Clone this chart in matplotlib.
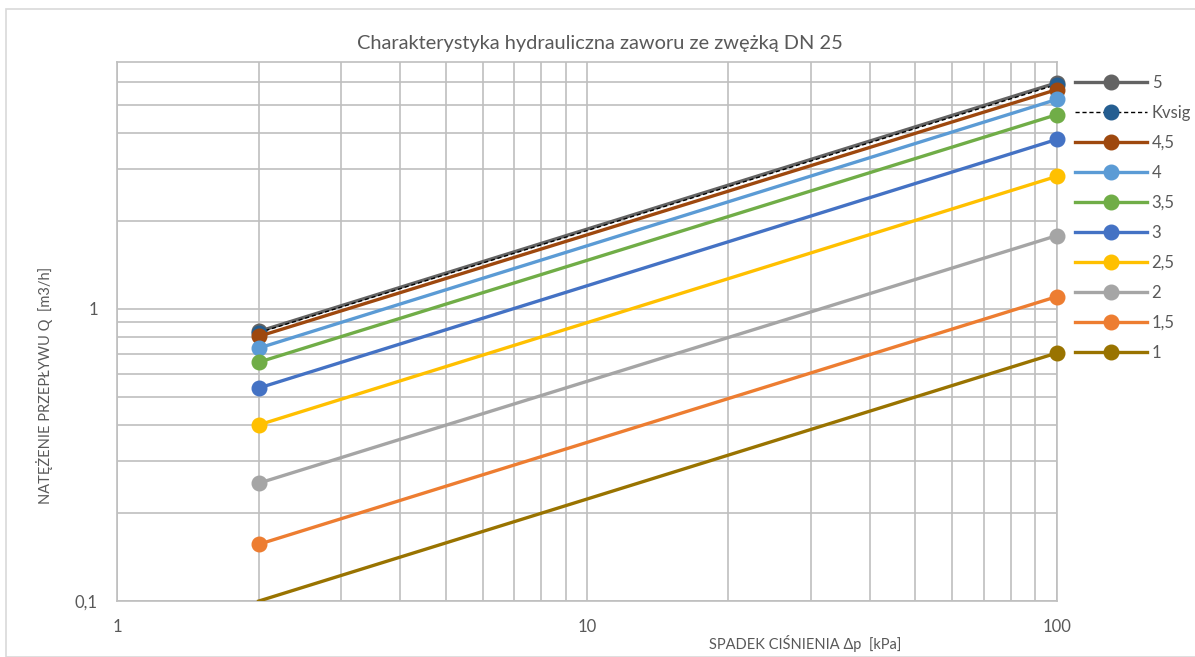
import matplotlib
matplotlib.use("Agg")
import matplotlib.pyplot as plt
from matplotlib.ticker import FixedLocator, FuncFormatter, NullFormatter
from matplotlib.patches import Rectangle
from matplotlib.lines import Line2D

plt.rcParams['font.family'] = ['Lato', 'DejaVu Sans']

dp = [2, 100]
labels = ["5", "Kvsig", "4,5", "4", "3,5", "3", "2,5", "2", "1,5", "1"]
q_5 = [0.836, 5.94]
q_kvsig = [0.828, 5.86]
q_45 = [0.804, 5.63]
q_4 = [0.733, 5.21]
q_35 = [0.656, 4.62]
q_3 = [0.535, 3.80]
q_25 = [0.400, 2.84]
q_2 = [0.2526, 1.78]
q_15 = [0.156, 1.10]
q_1 = [0.0997, 0.705]
series = [q_5, q_kvsig, q_45, q_4, q_35, q_3, q_25, q_2, q_15, q_1]
colors = ["#636363", "#255E91", "#9E480E", "#5B9BD5", "#70AD47",
          "#4472C4", "#FFC000", "#A5A5A5", "#ED7D31", "#997300"]

W, H = 1195, 657
fig = plt.figure(figsize=(W / 100, H / 100), dpi=100)
fig.patches.append(Rectangle((6 / W, 0), 2, (H - 9) / H, transform=fig.transFigure,
                             fill=False, edgecolor="#D9D9D9", linewidth=1.2))

l, r, t, b = 117.3, 1056.7, 62, 600.7
ax = fig.add_axes([l / W, (H - b) / H, (r - l) / W, (b - t) / H])
ax.set_xscale('log')
ax.set_yscale('log')
ymin, ymax = 0.1, 7
ax.set_xlim(1, 100)
ax.set_ylim(ymin, ymax)

grid_c = "#BFBFBF"
ax.xaxis.set_major_locator(FixedLocator([1, 10, 100]))
ax.yaxis.set_major_locator(FixedLocator([0.1, 1]))
ax.xaxis.set_minor_locator(FixedLocator([2, 3, 4, 5, 6, 7, 8, 9, 20, 30, 40, 50, 60, 70, 80, 90]))
ax.yaxis.set_minor_locator(FixedLocator([0.2, 0.3, 0.4, 0.5, 0.6, 0.7, 0.8, 0.9, 2, 3, 4, 5, 6]))
fmt = FuncFormatter(lambda v, p: ("%g" % v).replace(".", ","))
ax.xaxis.set_major_formatter(fmt)
ax.yaxis.set_major_formatter(fmt)
ax.xaxis.set_minor_formatter(NullFormatter())
ax.yaxis.set_minor_formatter(NullFormatter())
ax.grid(True, which='both', color=grid_c, linewidth=1.2)
ax.set_axisbelow(True)
for s in ax.spines.values():
    s.set_color(grid_c)
    s.set_linewidth(1.2)
ax.tick_params(which='both', length=0, colors="#595959", labelsize=12)
ax.tick_params(axis='x', pad=13)
ax.tick_params(axis='y', pad=14)

handles = []
z = 3.0
for lab, vals, c in zip(labels, series, colors):
    mx = [x for x, y in zip(dp, vals) if ymin <= y <= ymax]
    my = [y for y in vals if ymin <= y <= ymax]
    if lab == "Kvsig":
        ax.plot(dp, vals, color="black", linestyle=(0, (3, 2)), linewidth=1.0, zorder=z)
        ax.plot(mx, my, linestyle="none", marker='o', markersize=10.5, color=c, zorder=z,
                clip_on=False)
        h = Line2D([], [], color="black", linestyle=(0, (3, 2)), linewidth=1.0,
                   marker='o', markersize=10.5, markerfacecolor=c, markeredgecolor=c)
    else:
        ax.plot(dp, vals, color=c, linewidth=2.4, zorder=z)
        ax.plot(mx, my, linestyle="none", marker='o', markersize=10.5, color=c, zorder=z,
                clip_on=False)
        h = Line2D([], [], color=c, linewidth=2.4, marker='o', markersize=10.5)
    handles.append(h)
    z += 0.01

leg = fig.legend(handles, labels, loc='upper left',
                 bbox_to_anchor=(1075 / W, 1 - 75 / H), frameon=False,
                 handlelength=4.3, handletextpad=0.3, labelspacing=0.84,
                 fontsize=12, labelcolor="#595959", borderaxespad=0, borderpad=0)

fig.text(600 / W, 1 - 44 / H, "Charakterystyka hydrauliczna zaworu ze zwężką DN 25",
         ha='center', va='center', fontsize=14.4, color="#595959")
fig.text(805 / W, 1 - 643 / H, "SPADEK CIŚNIENIA Δp  [kPa]",
         ha='center', va='center', fontsize=10.5, color="#595959")
fig.text(45 / W, 1 - 385 / H, "NATĘŻENIE PRZEPŁYWU Q  [m3/h]",
         ha='center', va='center', rotation=90, fontsize=10.5, color="#595959")

fig.savefig("out.png", dpi=100)
